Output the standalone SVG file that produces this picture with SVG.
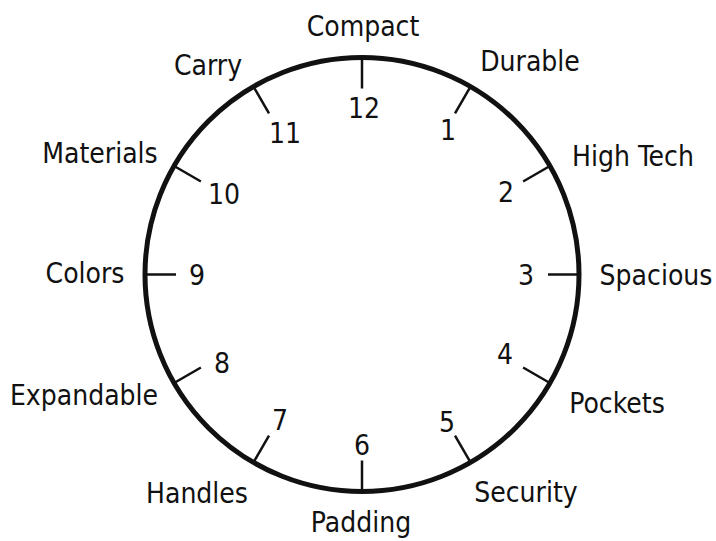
<svg xmlns="http://www.w3.org/2000/svg" width="716" height="541" viewBox="0 0 716 541">
<style>
text{font-family:"DejaVu Sans Condensed","Liberation Sans Narrow","Liberation Sans",sans-serif;font-size:28px;fill:#111;}
.n{text-anchor:middle;}
.tick{stroke:#111;stroke-width:2.5;fill:none;}
.ring{stroke:#111;stroke-width:5;fill:none;}
</style>
<rect width="716" height="541" fill="#fff"/>
<g id="dial"><circle class="ring" cx="362" cy="274.5" r="217"/></g>
<g id="connectors">
<line class="tick" x1="362" y1="57.5" x2="362" y2="88.5"/>
<line class="tick" x1="470.5" y1="86.6" x2="455" y2="113.4"/>
<line class="tick" x1="549.9" y1="166" x2="523.1" y2="181.5"/>
<line class="tick" x1="579" y1="274.5" x2="548" y2="274.5"/>
<line class="tick" x1="549.9" y1="383" x2="523.1" y2="367.5"/>
<line class="tick" x1="470.5" y1="462.4" x2="455" y2="435.6"/>
<line class="tick" x1="362" y1="491.5" x2="362" y2="460.5"/>
<line class="tick" x1="253.5" y1="462.4" x2="269" y2="435.6"/>
<line class="tick" x1="174.1" y1="383" x2="200.9" y2="367.5"/>
<line class="tick" x1="145" y1="274.5" x2="176" y2="274.5"/>
<line class="tick" x1="174.1" y1="166" x2="200.9" y2="181.5"/>
<line class="tick" x1="253.5" y1="86.6" x2="269" y2="113.4"/>
</g>
<g id="h12"><text class="n" x="364" y="118">12</text><text class="n" x="363" y="36">Compact</text></g>
<g id="h1"><text class="n" x="448" y="140">1</text><text class="n" x="530" y="71">Durable</text></g>
<g id="h2"><text class="n" x="506" y="202">2</text><text class="n" x="633" y="166">High Tech</text></g>
<g id="h3"><text class="n" x="526" y="285">3</text><text class="n" x="656" y="285">Spacious</text></g>
<g id="h4"><text class="n" x="505" y="364">4</text><text class="n" x="617" y="413">Pockets</text></g>
<g id="h5"><text class="n" x="447" y="432">5</text><text class="n" x="526" y="502">Security</text></g>
<g id="h6"><text class="n" x="362" y="455">6</text><text class="n" x="361" y="532">Padding</text></g>
<g id="h7"><text class="n" x="280" y="430">7</text><text class="n" x="197" y="503">Handles</text></g>
<g id="h8"><text class="n" x="222" y="373">8</text><text class="n" x="84" y="405">Expandable</text></g>
<g id="h9"><text class="n" x="197" y="285">9</text><text class="n" x="85" y="283">Colors</text></g>
<g id="h10"><text class="n" x="224" y="204">10</text><text class="n" x="100" y="163">Materials</text></g>
<g id="h11"><text class="n" x="285" y="143">11</text><text class="n" x="208" y="75">Carry</text></g>
</svg>
